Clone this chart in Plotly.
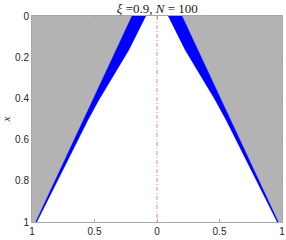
import plotly.graph_objects as go

# depth (vertical axis, reversed) and band edges (horizontal distance from centre)
depth = [0.0, 0.165, 0.408, 0.505, 1.0]
band_outer = [0.20, 0.327, 0.514, 0.589, 0.970]
band_inner = [0.09, 0.226, 0.466, 0.553, 0.962]

x_ticks = [-1, -0.5, 0, 0.5, 1]
x_ticktext = ["1", "0.5", "0", "0.5", "1"]
y_ticks = [0, 0.2, 0.4, 0.6, 0.8, 1]
y_ticktext = ["0", "0.2", "0.4", "0.6", "0.8", "1"]

GRAY = "#b3b3b3"
BLUE = "#0000ff"

fig = go.Figure()

for s in (-1, 1):
    # gray region outside the band
    gx = [s * 1.0] + [s * o for o in band_outer] + [s * 1.0]
    gy = [0.0] + depth + [1.0]
    fig.add_trace(go.Scatter(x=gx, y=gy, fill="toself", fillcolor=GRAY,
                             mode="lines", line=dict(width=0, color=GRAY),
                             hoverinfo="skip", showlegend=False))
    # blue band
    bx = [s * o for o in band_outer] + [s * i for i in band_inner[::-1]]
    by = depth + depth[::-1]
    fig.add_trace(go.Scatter(x=bx, y=by, fill="toself", fillcolor=BLUE,
                             mode="lines", line=dict(width=0.5, color=BLUE),
                             hoverinfo="skip", showlegend=False))

# centre dash-dot line
fig.add_trace(go.Scatter(x=[0, 0], y=[0, 1], mode="lines",
                         line=dict(color="rgba(230,60,60,0.8)", width=0.8, dash="4px,2px,1px,2px"),
                         hoverinfo="skip", showlegend=False))

axis_common = dict(showgrid=False, zeroline=False, showline=True, linecolor="#a8a8a8",
                   linewidth=1, mirror="ticks", ticks="inside", ticklen=3,
                   tickcolor="#a8a8a8", automargin=False,
                   tickfont=dict(family="Liberation Sans", size=10, color="#262626"))

fig.update_layout(
    width=286, height=240,
    margin=dict(l=32, r=4, t=16, b=18),
    paper_bgcolor="white", plot_bgcolor="white",
    title=dict(text="<i>ξ</i> =0.9, <i>N</i> = 100", x=0.55, xanchor="center",
               y=1 - 8 / 240, yanchor="middle", yref="container",
               font=dict(family="Liberation Serif", size=13, color="#1a1a1a")),
    xaxis=dict(range=[-1, 1], tickvals=x_ticks, ticktext=x_ticktext, **axis_common),
    yaxis=dict(range=[1, 0], tickvals=y_ticks, ticktext=y_ticktext,
               title=dict(text="<i>x</i>", standoff=4,
                          font=dict(family="Liberation Serif", size=11, color="#262626")),
               **axis_common),
)

fig.write_html("out.html", config={"displayModeBar": False},
               post_script="document.body.style.margin='0';document.body.style.overflow='hidden';")
